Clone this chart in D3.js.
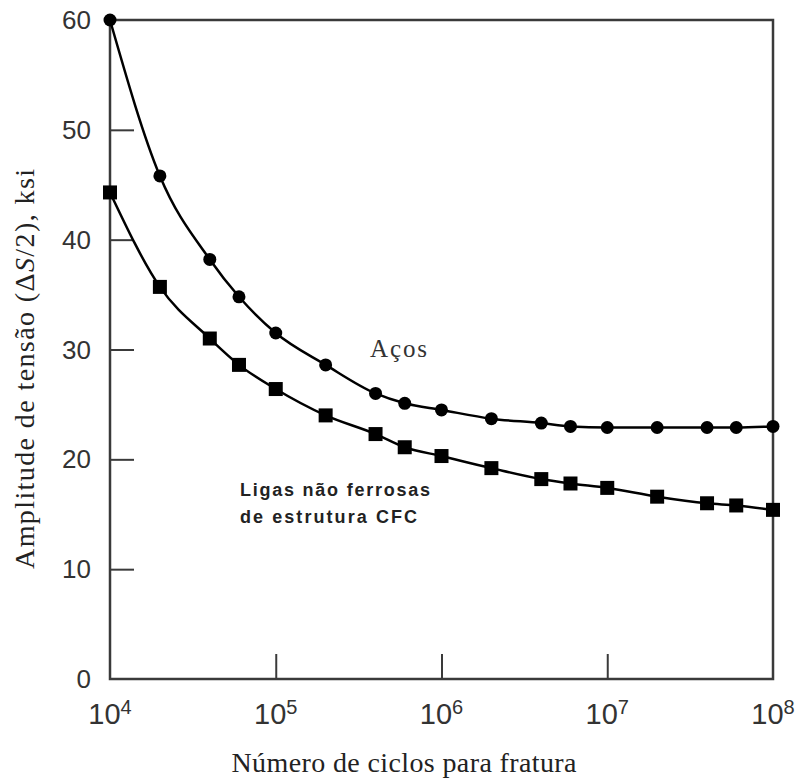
<!DOCTYPE html>
<html>
<head>
<meta charset="utf-8">
<script src="https://cdn.jsdelivr.net/npm/d3@7"></script>
<style>
  body { margin: 0; background: #fff; }
  svg { display: block; }
</style>
</head>
<body>
<div id="chart"></div>
<script>
// cycles to fracture (same for both series)
const cycles = [1e4, 2e4, 4e4, 6e4, 1e5, 2e5, 4e5, 6e5, 1e6, 2e6, 4e6, 6e6, 1e7, 2e7, 4e7, 6e7, 1e8];
// stress amplitude, ksi
const steel = [60, 45.8, 38.2, 34.8, 31.5, 28.6, 26.0, 25.1, 24.5, 23.7, 23.3, 23.0, 22.9, 22.9, 22.9, 22.9, 23.0];
const fccAlloys = [44.3, 35.7, 31.0, 28.6, 26.4, 24.0, 22.3, 21.1, 20.3, 19.2, 18.2, 17.8, 17.4, 16.6, 16.0, 15.8, 15.4];
const yTicks = [0, 10, 20, 30, 40, 50, 60];
const xTicks = [1e4, 1e5, 1e6, 1e7, 1e8];

const width = 795, height = 780;
const marginLeft = 110, marginRight = 22, marginTop = 20, marginBottom = 101;

const svg = d3.select('#chart').append('svg')
    .attr('width', width)
    .attr('height', height)
    .attr('viewBox', [0, 0, width, height]);

const x = d3.scaleLog()
    .domain([1e4, 1e8])
    .range([marginLeft, width - marginRight]);

const y = d3.scaleLinear()
    .domain([0, 60])
    .range([height - marginBottom, marginTop]);

const axisColor = '#3a3a3a';
const sans = 'Liberation Sans, Arial, sans-serif';
const serif = 'Liberation Serif, Times New Roman, serif';

// frame
svg.append('rect')
    .attr('x', x(1e4))
    .attr('y', y(60))
    .attr('width', x(1e8) - x(1e4))
    .attr('height', y(0) - y(60))
    .attr('fill', 'none')
    .attr('stroke', axisColor)
    .attr('stroke-width', 2.5);

// y axis, ticks pointing inward
svg.append('g')
    .attr('transform', `translate(${x(1e4)},0)`)
    .call(d3.axisRight(y).tickValues(yTicks.slice(1, -1)).tickSize(24).tickFormat(''))
    .call(g => g.select('.domain').remove())
    .call(g => g.selectAll('.tick line').attr('stroke', axisColor).attr('stroke-width', 2));

svg.append('g')
    .selectAll('text')
    .data(yTicks)
    .join('text')
    .attr('x', 91)
    .attr('y', d => y(d) + 9)
    .attr('text-anchor', 'end')
    .attr('font-family', sans)
    .attr('font-size', 26)
    .attr('fill', '#333')
    .text(d => d);

// x axis, ticks pointing inward
svg.append('g')
    .attr('transform', `translate(0,${y(0)})`)
    .call(d3.axisTop(x).tickValues(xTicks.slice(1, -1)).tickSize(25).tickFormat(''))
    .call(g => g.select('.domain').remove())
    .call(g => g.selectAll('.tick line').attr('stroke', axisColor).attr('stroke-width', 2));

const xLabels = svg.append('g')
    .selectAll('text')
    .data(xTicks)
    .join('text')
    .attr('x', d => x(d))
    .attr('y', 724)
    .attr('text-anchor', 'middle')
    .attr('font-family', sans)
    .attr('font-size', 29)
    .attr('fill', '#333');
xLabels.append('tspan').text('10');
xLabels.append('tspan')
    .attr('dy', -10)
    .attr('font-size', 20)
    .text(d => Math.round(Math.log10(d)));

// axis titles
svg.append('text')
    .attr('x', 404)
    .attr('y', 772)
    .attr('text-anchor', 'middle')
    .attr('font-family', serif)
    .attr('font-size', 28)
    .attr('textLength', 345)
    .attr('lengthAdjust', 'spacing')
    .attr('fill', '#222')
    .text('Número de ciclos para fratura');

const yTitle = svg.append('text')
    .attr('transform', 'translate(34,369) rotate(-90)')
    .attr('text-anchor', 'middle')
    .attr('font-family', serif)
    .attr('font-size', 28)
    .attr('textLength', 400)
    .attr('lengthAdjust', 'spacing')
    .attr('fill', '#222');
yTitle.append('tspan').text('Amplitude de tensão (Δ');
yTitle.append('tspan').attr('font-style', 'italic').text('S');
yTitle.append('tspan').text('/2), ksi');

// curves
const line = d3.line()
    .x((d, i) => x(cycles[i]))
    .y(d => y(d))
    .curve(d3.curveMonotoneX);

svg.append('path')
    .attr('d', line(steel))
    .attr('fill', 'none')
    .attr('stroke', '#000')
    .attr('stroke-width', 2.5);

svg.append('path')
    .attr('d', line(fccAlloys))
    .attr('fill', 'none')
    .attr('stroke', '#000')
    .attr('stroke-width', 2.5);

svg.append('g')
    .selectAll('circle')
    .data(steel)
    .join('circle')
    .attr('cx', (d, i) => x(cycles[i]))
    .attr('cy', d => y(d))
    .attr('r', 6.5)
    .attr('fill', '#000');

const sq = 14;
svg.append('g')
    .selectAll('rect')
    .data(fccAlloys)
    .join('rect')
    .attr('x', (d, i) => x(cycles[i]) - sq / 2)
    .attr('y', d => y(d) - sq / 2)
    .attr('width', sq)
    .attr('height', sq)
    .attr('fill', '#000');

// series labels
svg.append('text')
    .attr('x', 370)
    .attr('y', 357)
    .attr('font-family', serif)
    .attr('font-size', 25)
    .attr('textLength', 57)
    .attr('lengthAdjust', 'spacing')
    .attr('fill', '#333')
    .text('Aços');

svg.append('text')
    .attr('x', 240)
    .attr('y', 496)
    .attr('font-family', sans)
    .attr('font-size', 18)
    .attr('font-weight', 'bold')
    .attr('textLength', 190)
    .attr('lengthAdjust', 'spacing')
    .attr('fill', '#222')
    .text('Ligas não ferrosas');

svg.append('text')
    .attr('x', 240)
    .attr('y', 523)
    .attr('font-family', sans)
    .attr('font-size', 18)
    .attr('font-weight', 'bold')
    .attr('textLength', 177)
    .attr('lengthAdjust', 'spacing')
    .attr('fill', '#222')
    .text('de estrutura CFC');
</script>
</body>
</html>
